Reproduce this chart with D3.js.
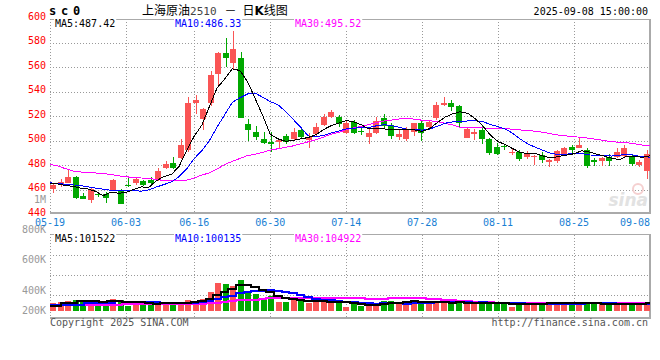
<!DOCTYPE html>
<html>
<head>
<meta charset="utf-8">
<script src="https://cdn.jsdelivr.net/npm/d3@7"></script>
<style>
  body { margin: 0; background: #fff; }
  svg { display: block; }
  text { font-family: "DejaVu Sans Mono", monospace; font-size: 10px; }
</style>
</head>
<body>
<div id="chart"></div>
<script>
// date ticks (index of the trading day they belong to)
const dateLabels = ["05-19", "06-03", "06-16", "06-30", "07-14", "07-28", "08-11", "08-25", "09-08"];
const dateIndex = [0, 10, 19, 29, 39, 49, 59, 69, 79];

// daily candles, 05-19 .. 09-08
const open = [460.2, 464.6, 465.1, 470.5, 454.7, 451.4, 456.5, 456.3, 460.0, 460.0,
  463.3, 465.1, 466.9, 467.8, 467.8, 477.8, 481.9, 485.5, 492.2, 530.4,
  517.6, 530.4, 554.3, 571.7, 563.0, 567.6, 513.5, 507.2, 501.2, 499.0,
  498.5, 503.7, 501.2, 508.6, 500.4, 505.3, 512.7, 519.4, 519.4, 505.9,
  515.3, 507.5, 503.1, 506.4, 518.6, 512.7, 503.1, 501.2, 507.2, 514.0,
  510.8, 518.1, 529.0, 530.4, 528.4, 502.3, 505.1, 508.6, 501.0, 494.4,
  495.5, 490.2, 490.9, 486.8, 486.5, 488.2, 482.2, 483.5, 488.2, 495.0,
  494.1, 492.2, 484.1, 483.5, 486.8, 486.8, 487.6, 487.3, 480.0, 475.3];
const high = [464.5, 468.3, 476.5, 471.0, 457.4, 461.0, 458.2, 458.2, 468.3, 460.5,
  469.1, 469.6, 467.5, 470.5, 477.8, 483.3, 486.3, 501.2, 535.8, 537.1,
  526.5, 557.0, 572.5, 583.4, 589.4, 572.5, 517.6, 511.8, 507.2, 507.0,
  501.0, 505.3, 510.0, 509.5, 506.4, 514.5, 521.6, 524.5, 520.5, 516.0,
  517.0, 511.8, 509.5, 519.4, 521.4, 514.0, 509.0, 511.0, 514.5, 516.0,
  517.0, 531.2, 535.3, 533.0, 529.0, 510.0, 509.4, 511.8, 502.0, 498.2,
  497.0, 492.8, 492.2, 491.4, 488.0, 490.9, 485.0, 492.2, 495.0, 496.3,
  501.8, 494.1, 485.5, 486.5, 488.7, 493.6, 496.3, 488.7, 484.1, 492.0];
const low = [457.5, 462.3, 465.0, 452.0, 452.0, 449.2, 454.0, 449.2, 459.5, 447.8,
  462.3, 463.7, 462.5, 464.5, 467.0, 477.0, 476.5, 484.5, 491.0, 521.4,
  508.6, 528.5, 545.3, 560.2, 558.0, 518.0, 499.8, 500.4, 497.0, 491.0,
  492.8, 497.0, 500.0, 501.7, 493.6, 504.0, 511.5, 518.0, 511.0, 505.0,
  505.0, 504.5, 497.0, 505.0, 510.0, 501.2, 500.4, 500.0, 503.9, 500.0,
  510.0, 517.0, 528.0, 524.3, 510.4, 502.0, 500.4, 497.1, 488.2, 487.8,
  492.0, 488.2, 483.5, 485.0, 480.0, 481.4, 478.6, 482.0, 487.0, 490.0,
  493.5, 477.8, 479.2, 479.2, 479.2, 486.0, 486.5, 479.2, 478.1, 468.3];
const close = [463.7, 465.9, 470.5, 453.3, 452.5, 460.2, 456.0, 452.8, 467.8, 447.8,
  463.0, 468.6, 463.7, 465.1, 475.1, 480.6, 477.3, 496.3, 530.9, 533.0,
  525.5, 553.5, 571.7, 567.1, 574.7, 518.6, 508.6, 503.1, 497.7, 497.1,
  500.4, 498.5, 507.2, 503.1, 503.1, 511.3, 519.4, 523.5, 513.5, 514.0,
  505.9, 507.0, 506.4, 516.0, 511.8, 503.9, 505.0, 508.6, 514.0, 505.9,
  515.3, 529.0, 530.9, 527.6, 514.5, 509.1, 506.7, 501.2, 490.0, 489.0,
  495.0, 490.6, 484.9, 488.7, 487.0, 484.1, 484.1, 491.4, 494.1, 492.2,
  496.3, 479.2, 482.2, 486.0, 483.5, 490.9, 493.6, 480.8, 482.7, 489.1];
const volume = [113000, 124000, 144000, 155000, 129000, 140000, 104000, 129000, 171000, 155000,
  62000, 104000, 124000, 104000, 104000, 88000, 88000, 129000, 155000, 129000,
  171000, 284000, 423000, 403000, 372000, 465000, 284000, 243000, 191000, 217000,
  129000, 124000, 155000, 140000, 113000, 140000, 140000, 124000, 129000, 51000,
  88000, 62000, 62000, 93000, 144000, 144000, 129000, 104000, 144000, 104000,
  129000, 129000, 104000, 104000, 140000, 104000, 93000, 140000, 88000, 124000,
  88000, 51000, 88000, 88000, 113000, 104000, 113000, 113000, 113000, 88000,
  88000, 129000, 88000, 88000, 88000, 88000, 88000, 113000, 88000, 129000];

// moving-average values before enough days are on screen
const ma5Head = [464.9, 464.5, 463.4, 462.6];
const ma10Head = [465.4, 465.0, 464.3, 463.8, 463.2, 462.2, 461.2, 460.2, 459.4];
const ma30Head = [480.6, 479.2, 477.1, 475.1, 474.3, 473.9, 473.5, 473.1, 472.2, 471.2,
  470.4, 469.8, 469.4, 469.0, 468.3, 467.3, 467.1, 467.2, 467.6, 469.4,
  471.8, 473.6, 476.7, 480.4, 483.0, 485.3, 487.7, 488.7, 490.4];
const vma5Head = [62000, 62000, 113000, 115000];
const vma10Head = [73000, 73000, 73000, 73000, 73000, 108000, 108000, 108000, 108000];
const vma30Head = [73000, 73000, 75000, 76000, 78000, 80000, 82000, 83000, 84000, 85000,
  86000, 86000, 87000, 87000, 88000, 88000, 89000, 89000, 90000, 92000,
  100000, 108000, 116000, 124000, 135000, 148000, 155000, 160000, 165000];

// legend readings (last day)
const maLegend = ["MA5:487.42", "MA10:486.33", "MA30:495.52"];
const vmaLegend = ["MA5:101522", "MA10:100135", "MA30:104922"];

const priceTicks = [440, 460, 480, 500, 520, 540, 560, 580, 600];
const volTicks = [200000, 400000, 600000, 800000, 1000000];
const volTickLabels = ["200K", "400K", "600K", "800K", "1M"];

const RED = "#fa5555";
const GREEN = "#00a800";
const GRID = "#999";
const maColors = ["#000000", "#0000ff", "#ff00ff"];

const width = 660;
const height = 360;
const left = 50;
const right = 650;

const svg = d3.select("#chart").append("svg")
  .attr("width", width)
  .attr("height", height);

const n = close.length;

function movingAvg(values, span, head) {
  return values.map((v, i) => i < span - 1 ? head[i] : d3.mean(values.slice(i - span + 1, i + 1)));
}

// scales
const xBand = d3.scaleBand().domain(d3.range(n)).range([left, right]).paddingInner(0.2).paddingOuter(0).align(0);
const xLine = d3.scaleLinear().domain([0, n - 1]).range([left, right]);
const yPrice = d3.scaleLinear().domain([440, 600]).range([214, 18]);
const yVol = d3.scaleLinear().domain([0, 1000000]).range([310, 245.5]);
const yVolLabel = d3.scaleLinear().domain([400000, 1000000]).range([293.5, 203]);
const volBase = 311;

// ---------- grids ----------
const grid = svg.append("g");
grid.selectAll(".hgrid")
  .data(priceTicks.filter((d) => d > 440 && d < 600))
  .enter().append("line")
  .attr("x1", left).attr("x2", right)
  .attr("y1", (d) => Math.round(yPrice(d)) + 0.5)
  .attr("y2", (d) => Math.round(yPrice(d)) + 0.5)
  .attr("stroke", GRID).attr("stroke-dasharray", "1,2");

const innerDates = dateIndex.filter((d) => d > 0 && d < n - 1);
grid.selectAll(".vgrid")
  .data(innerDates)
  .enter().append("line")
  .attr("x1", (d) => Math.round(xLine(d)) + 0.5)
  .attr("x2", (d) => Math.round(xLine(d)) + 0.5)
  .attr("y1", 19).attr("y2", 213)
  .attr("stroke", GRID).attr("stroke-dasharray", "1,2");

const volGridY = [255.5, 275.5, 295.5];
grid.selectAll(".vhgrid")
  .data(volGridY)
  .enter().append("line")
  .attr("x1", left).attr("x2", right)
  .attr("y1", (d) => d).attr("y2", (d) => d)
  .attr("stroke", GRID).attr("stroke-dasharray", "1,2");
grid.selectAll(".vvgrid")
  .data(innerDates)
  .enter().append("line")
  .attr("x1", (d) => Math.round(xLine(d)) + 0.5)
  .attr("x2", (d) => Math.round(xLine(d)) + 0.5)
  .attr("y1", 235).attr("y2", 317)
  .attr("stroke", GRID).attr("stroke-dasharray", "1,2");

// frames
function frame(top, bottom) {
  svg.append("line").attr("x1", left).attr("x2", right).attr("y1", top + 0.5).attr("y2", top + 0.5)
    .attr("stroke", "#aaa");
  svg.append("rect").attr("x", left).attr("y", bottom - 1).attr("width", right - left).attr("height", 2)
    .attr("fill", "#aaa");
  svg.append("rect").attr("x", right - 1).attr("y", top).attr("width", 2).attr("height", bottom - top + 1)
    .attr("fill", "#aaa");
  svg.append("line").attr("x1", left + 0.5).attr("x2", left + 0.5).attr("y1", top).attr("y2", bottom)
    .attr("stroke", GRID).attr("stroke-dasharray", "1,2");
}
frame(19, 213);
frame(234, 318);

// watermark
svg.append("text").attr("x", 648).attr("y", 206).attr("text-anchor", "end")
  .style("font-family", "'DejaVu Sans', sans-serif").style("font-size", "17px")
  .style("font-weight", "bold").style("font-style", "italic")
  .attr("fill", "#e2e2e2").text("sina");
svg.append("circle").attr("cx", 638).attr("cy", 189).attr("r", 5)
  .attr("fill", "none").attr("stroke", "#f5d0d0").attr("stroke-width", 2);

// ---------- candles ----------
const candles = svg.append("g").attr("shape-rendering", "crispEdges");
const idx = d3.range(n);
const color = (i) => (close[i] >= open[i] ? RED : GREEN);
const bx = (i) => Math.round(xBand(i));

candles.selectAll(".wick")
  .data(idx).enter().append("rect")
  .attr("x", (i) => bx(i) + 2.5)
  .attr("width", 1)
  .attr("y", (i) => yPrice(high[i]))
  .attr("height", (i) => Math.max(1, yPrice(low[i]) - yPrice(high[i])))
  .attr("fill", color);

candles.selectAll(".body")
  .data(idx).enter().append("rect")
  .attr("x", bx)
  .attr("width", 6)
  .attr("y", (i) => yPrice(Math.max(open[i], close[i])))
  .attr("height", (i) => Math.max(1, Math.abs(yPrice(open[i]) - yPrice(close[i]))))
  .attr("fill", color);

// volume bars
candles.selectAll(".vol")
  .data(idx).enter().append("rect")
  .attr("x", bx)
  .attr("width", 6)
  .attr("y", (i) => yVol(volume[i]))
  .attr("height", (i) => volBase - yVol(volume[i]))
  .attr("fill", color);

// ---------- moving averages ----------
const priceMA = [movingAvg(close, 5, ma5Head), movingAvg(close, 10, ma10Head), movingAvg(close, 30, ma30Head)];
const volMA = [movingAvg(volume, 5, vma5Head), movingAvg(volume, 10, vma10Head), movingAvg(volume, 30, vma30Head)];

const priceLine = d3.line().x((d, i) => xLine(i)).y((d) => yPrice(d));
const volLine = d3.line().x((d, i) => xLine(i)).y((d) => yVol(d)).curve(d3.curveStep);

[2, 1, 0].forEach((k) => {
  svg.append("path").attr("d", priceLine(priceMA[k])).attr("fill", "none")
    .attr("stroke", maColors[k]).attr("stroke-width", 1).attr("shape-rendering", "crispEdges");
  svg.append("path").attr("d", volLine(volMA[k])).attr("fill", "none")
    .attr("stroke", maColors[k]).attr("stroke-width", 2).attr("shape-rendering", "crispEdges");
});

// ---------- labels ----------
function boxedText(x, y, str, fill) {
  const t = svg.append("text").attr("x", x).attr("y", y).attr("fill", fill).text(str);
  const b = t.node().getBBox();
  svg.insert("rect", () => t.node())
    .attr("x", b.x - 1).attr("y", b.y).attr("width", b.width + 2).attr("height", b.height)
    .attr("fill", "#fff");
}
const legendX = [55, 175, 295];
maLegend.forEach((s, k) => boxedText(legendX[k], 27, s, maColors[k]));
vmaLegend.forEach((s, k) => boxedText(legendX[k], 242, s, maColors[k]));

// price axis labels
svg.append("g").selectAll("text")
  .data(priceTicks).enter().append("text")
  .attr("x", 46).attr("y", (d) => yPrice(d) + 1.5)
  .attr("text-anchor", "end").attr("fill", "#ff0000")
  .text((d) => d);

// volume axis labels
svg.append("g").selectAll("text")
  .data(volTicks).enter().append("text")
  .attr("x", 46).attr("y", (d) => Math.min(313.5, yVolLabel(d)))
  .attr("text-anchor", "end").attr("fill", "#999")
  .text((d, i) => volTickLabels[i]);

// date labels
svg.append("g").selectAll("text")
  .data(dateIndex).enter().append("text")
  .attr("x", (d) => (d === n - 1 ? right : xLine(d)))
  .attr("y", 225.5)
  .attr("text-anchor", (d) => (d === n - 1 ? "end" : "middle"))
  .attr("fill", "#1a7fd4")
  .text((d, i) => dateLabels[i]);

// header
svg.append("text").attr("x", 49).attr("y", 15)
  .style("font-size", "12px").style("font-weight", "bold").attr("letter-spacing", 4.8)
  .text("sc0");

const title = svg.append("text").attr("x", 142).attr("y", 15)
  .style("font-family", "'Noto Sans CJK SC', sans-serif").style("font-size", "12px");
title.append("tspan").text("上海原油");
title.append("tspan").style("font-family", "'DejaVu Sans Mono', monospace").style("font-size", "11px")
  .attr("fill", "#444").text("2510");
title.append("tspan").attr("dx", 8).text("－");
title.append("tspan").attr("dx", 6).text("日");
title.append("tspan").style("font-family", "'DejaVu Sans', sans-serif").style("font-weight", "bold").text("K");
title.append("tspan").text("线图");

svg.append("text").attr("x", 648).attr("y", 15).attr("text-anchor", "end")
  .attr("fill", "#000").text("2025-09-08 15:00:00");

// footer
svg.append("text").attr("x", 50).attr("y", 326).attr("fill", "#555").text("Copyright 2025 SINA.COM");
svg.append("text").attr("x", 648).attr("y", 326).attr("text-anchor", "end")
  .attr("fill", "#555").text("http://finance.sina.com.cn");
</script>
</body>
</html>
